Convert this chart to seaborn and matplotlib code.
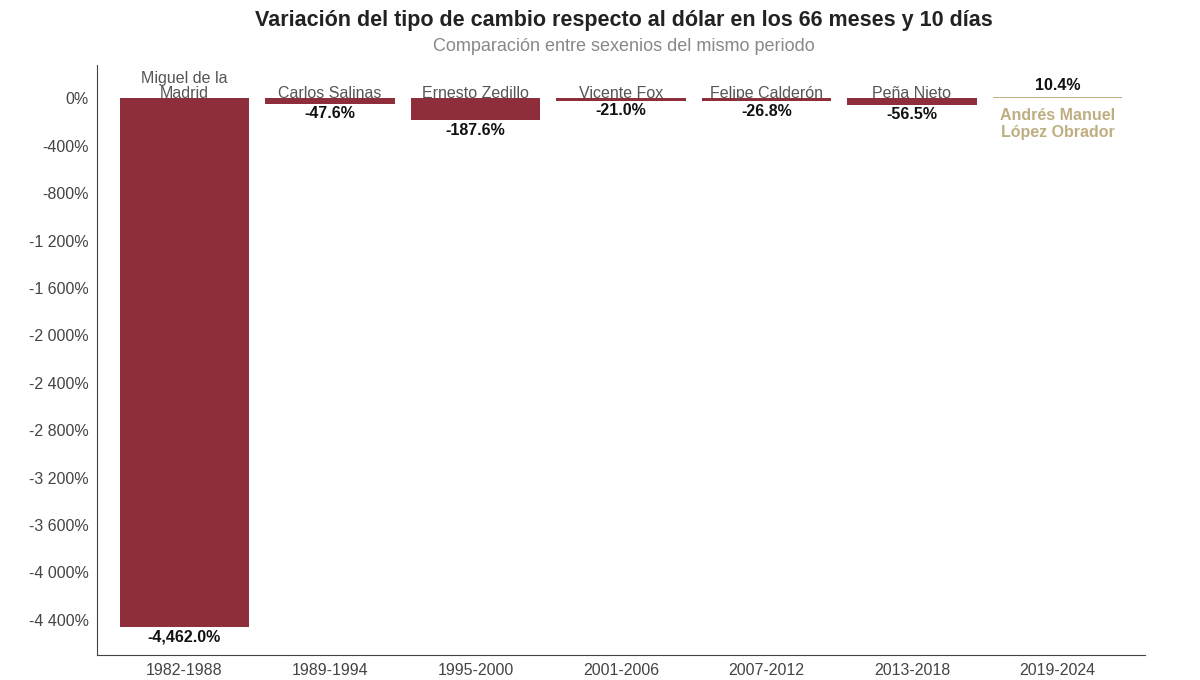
import matplotlib
matplotlib.use("Agg")
import matplotlib.pyplot as plt
import seaborn as sns
import pandas as pd

plt.rcParams["font.family"] = "Liberation Sans"

periods = ["1982-1988", "1989-1994", "1995-2000", "2001-2006", "2007-2012", "2013-2018", "2019-2024"]
presidents = ["Miguel de la\nMadrid", "Carlos Salinas", "Ernesto Zedillo", "Vicente Fox",
              "Felipe Calderón", "Peña Nieto", "Andrés Manuel\nLópez Obrador"]
values = [-4462.0, -47.6, -187.6, -21.0, -26.8, -56.5, 10.4]
yticks = list(range(0, -4401, -400))

red = "#8E2E3B"
tan = "#BFAE82"
colors = [red] * 6 + [tan]

df = pd.DataFrame({"period": periods, "value": values})
fig = plt.figure(figsize=(12, 6.8), dpi=100)
ax = fig.add_axes([0.081, 0.037, 0.873, 0.867])
sns.barplot(data=df, x="period", y="value", hue="period", palette=colors,
            legend=False, width=0.89, ax=ax, saturation=1)
ax.set_ylim(-4695, 278)
ax.set_xlim(-0.6, 6.6)
ax.set_yticks(yticks)
ax.set_yticklabels([f"{v:,}%".replace(",", " ") for v in yticks])
for s in ["top", "right"]:
    ax.spines[s].set_visible(False)
for s in ["left", "bottom"]:
    ax.spines[s].set_color("#444444")
ax.tick_params(colors="#444444", labelsize=11.5, length=0, pad=6)
ax.set_xlabel(""); ax.set_ylabel("")

for i, (name, v) in enumerate(zip(presidents, values)):
    if v < 0:
        ax.text(i, -20, name, ha="center", va="bottom", fontsize=11.5, color="#555555", linespacing=1.0)
        ax.text(i, v - 20, f"{v:,.1f}%", ha="center", va="top", fontsize=11.5,
                fontweight="bold", color="#111111")
    else:
        ax.text(i, v + 30, f"{v:,.1f}%", ha="center", va="bottom", fontsize=11.5,
                fontweight="bold", color="#111111")
        ax.text(i, -80, name, ha="center", va="top", fontsize=11.5,
                fontweight="bold", color=tan, linespacing=1.2)

fig.text(0.52, 0.97, "Variación del tipo de cambio respecto al dólar en los 66 meses y 10 días",
         ha="center", va="center", fontsize=15.5, fontweight="bold", color="#222222")
fig.text(0.52, 0.931, "Comparación entre sexenios del mismo periodo",
         ha="center", va="center", fontsize=13, color="#888888")
fig.savefig("out.png", dpi=100)
